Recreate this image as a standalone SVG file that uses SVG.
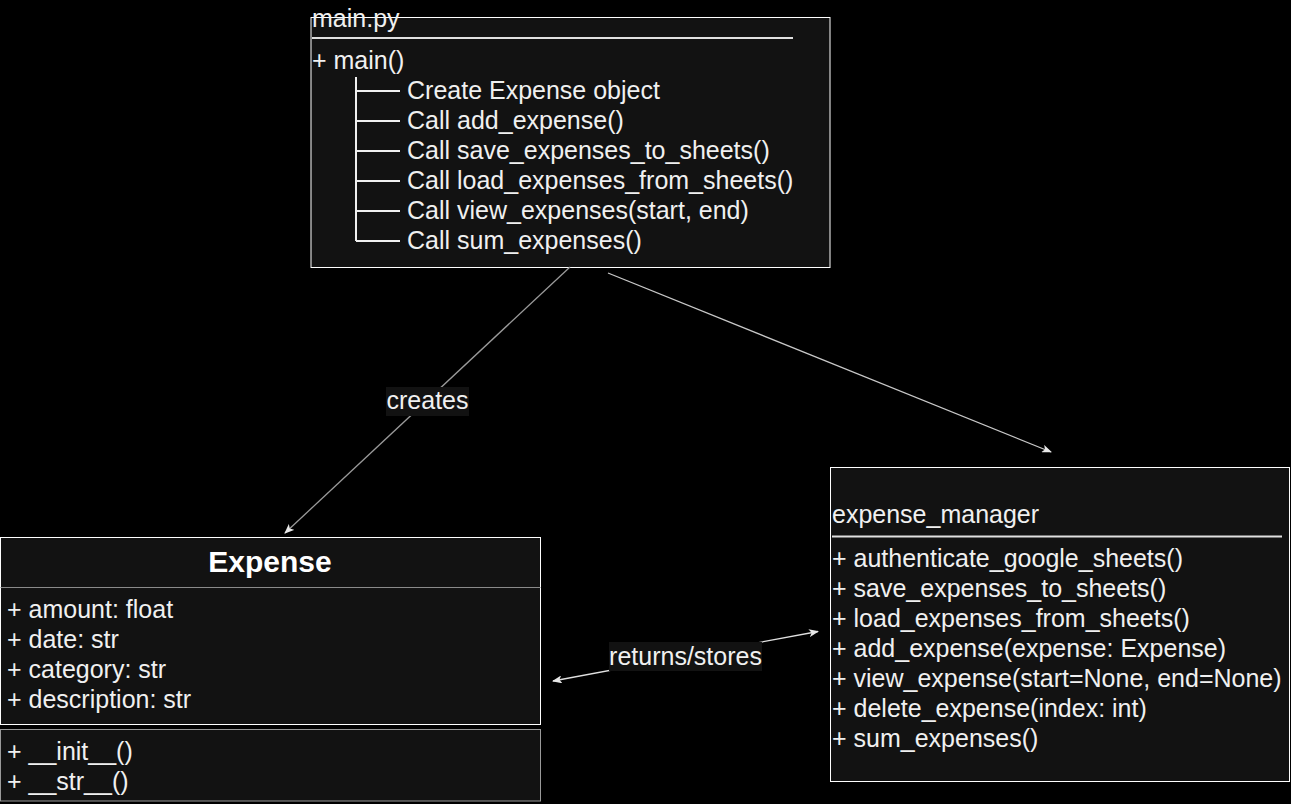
<svg xmlns="http://www.w3.org/2000/svg" width="1291" height="804" viewBox="0 0 1291 804">
<style>
.box{fill:#121212;stroke:#ffffff;stroke-width:1}
.t{font-family:"Liberation Sans",Arial,sans-serif;font-size:25px;fill:#f0f0f0}
.b{font-family:"Liberation Sans",Arial,sans-serif;font-size:30px;font-weight:bold;fill:#ffffff}
.tree{stroke:#f0f0f0;stroke-width:2;fill:none}
.conn{fill:none;stroke-width:1.3}
.lbl{fill:#121212}
</style>
<defs>
<marker id="arr" markerWidth="10" markerHeight="8" refX="9" refY="4" orient="auto-start-reverse" markerUnits="userSpaceOnUse">
<path d="M0,0 L10,4 L0,8 L2.5,4 z" fill="#e8e8e8"/>
</marker>
</defs>
<rect x="0" y="0" width="1291" height="804" fill="#000000"/>

<g id="main_py">
<rect class="box" x="311" y="17.5" width="519" height="250"/>
<text class="t" x="312" y="27">main.py</text>
<line x1="312" y1="38" x2="793" y2="38" stroke="#e0e0e0" stroke-width="2"/>
<text class="t" x="312" y="69">+ main()</text>
<path class="tree" d="M356,77 V241 M356,91 H400 M356,121 H400 M356,151 H400 M356,181 H400 M356,211 H400 M356,241 H400"/>
<text class="t" x="407" y="99">Create Expense object</text>
<text class="t" x="407" y="129">Call add_expense()</text>
<text class="t" x="407" y="159">Call save_expenses_to_sheets()</text>
<text class="t" x="407" y="189">Call load_expenses_from_sheets()</text>
<text class="t" x="407" y="219">Call view_expenses(start, end)</text>
<text class="t" x="407" y="249">Call sum_expenses()</text>
</g>

<g id="expense">
<rect class="box" x="0.5" y="537.5" width="540" height="187"/>
<line x1="0.5" y1="587.5" x2="540.5" y2="587.5" stroke="#8a8a8a" stroke-width="1"/>
<text class="b" x="270" y="572" text-anchor="middle">Expense</text>
<text class="t" x="7" y="618">+ amount: float</text>
<text class="t" x="7" y="648">+ date: str</text>
<text class="t" x="7" y="678">+ category: str</text>
<text class="t" x="7" y="708">+ description: str</text>
<rect x="0.5" y="729.5" width="540" height="71.5" fill="#121212" stroke="#9a9a9a" stroke-width="1"/>
<text class="t" x="7" y="760">+ __init__()</text>
<text class="t" x="7" y="790">+ __str__()</text>
</g>

<g id="expense_manager">
<rect class="box" x="830.5" y="467.5" width="459" height="314"/>
<text class="t" x="832" y="523">expense_manager</text>
<line x1="832" y1="536.5" x2="1282" y2="536.5" stroke="#e0e0e0" stroke-width="2"/>
<text class="t" x="832" y="567">+ authenticate_google_sheets()</text>
<text class="t" x="832" y="597">+ save_expenses_to_sheets()</text>
<text class="t" x="832" y="627">+ load_expenses_from_sheets()</text>
<text class="t" x="832" y="657">+ add_expense(expense: Expense)</text>
<text class="t" x="832" y="687">+ view_expense(start=None, end=None)</text>
<text class="t" x="832" y="717">+ delete_expense(index: int)</text>
<text class="t" x="832" y="747">+ sum_expenses()</text>
</g>

<g id="connectors">
<line class="conn" x1="570" y1="267" x2="285" y2="533" stroke="#9a9a9a" marker-end="url(#arr)"/>
<rect class="lbl" x="386" y="387" width="83" height="29"/>
<text class="t" x="427.5" y="409" text-anchor="middle">creates</text>
<line class="conn" x1="608" y1="273" x2="1051" y2="452" stroke="#c8c8c8" marker-end="url(#arr)"/>
<line class="conn" x1="553" y1="681" x2="818" y2="631.5" stroke="#e0e0e0" marker-start="url(#arr)" marker-end="url(#arr)"/>
<rect class="lbl" x="609" y="642" width="153" height="29"/>
<text class="t" x="685.5" y="664.5" text-anchor="middle">returns/stores</text>
</g>
</svg>
